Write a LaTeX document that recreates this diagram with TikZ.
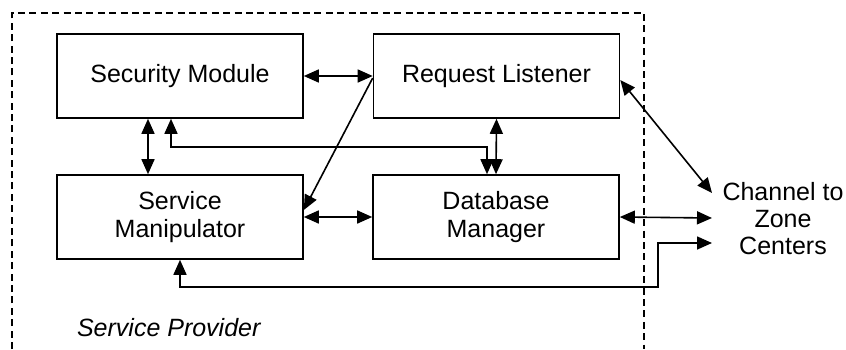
\documentclass[tikz,border=0pt]{standalone}
\usepackage{fontspec}
\setmainfont{Liberation Sans}
\usetikzlibrary{arrows.meta}
\begin{document}
\begin{tikzpicture}[x=0.5pt,y=-0.5pt,
  every node/.style={font=\fontsize{12.5}{14}\selectfont},
  box/.style={draw,line width=0.8pt,minimum width=123pt,minimum height=42pt,inner sep=0pt,align=center},
  conn/.style={line width=0.8pt,{Triangle[length=7.5pt,width=6.5pt]}-{Triangle[length=7.5pt,width=6.5pt]}},
  single/.style={line width=0.8pt,-{Triangle[length=7.5pt,width=6.5pt]}},
  frame/.style={line width=0.8pt,dash pattern=on 3.5pt off 2.2pt}]
\useasboundingbox (0,0) rectangle (846,349);
\draw[frame] (12,349) -- (12,13) -- (644,13) -- (644,349);
\node[box] (sec) at (180,76) {Security Module};
\node[box] (rl) at (496.5,76) {\raisebox{2pt}{Request Listener}};
\node[box] (svc) at (180,217) {Service\\Manipulator};
\node[box] (db) at (496,217) {Database\\Manager};
\node[align=center,font=\fontsize{12.5}{13.5}\selectfont] (ch) at (783,219) {Channel to\\Zone\\Centers};
\node[anchor=west,font=\fontsize{12.5}{14}\selectfont\itshape] (sp) at (70,328) {Service Provider};
\coordinate (cA) at (712,193);
\coordinate (cB) at (712,218);
\coordinate (cC) at (712,243);
\coordinate (kink) at (658,243);
\draw[conn] (sec.east) -- (rl.west);
\draw[conn] ([xshift=-16pt]sec.south) -- ([xshift=-16pt]svc.north);
\draw[conn] ([xshift=-4.5pt]sec.south) -- ++(0,28) -| ([xshift=-4.5pt]db.north);
\draw[conn] (rl.south) -- (db.north);
\draw[single] ([yshift=-1pt]rl.west) -- ([yshift=3.5pt]svc.east);
\draw[conn] (svc.east) -- (db.west);
\draw[conn] ([yshift=-2pt]rl.east) -- (cA);
\draw[conn] (db.east) -- (cB);
\draw[conn] (svc.south) -- ++(0,27) -| (kink) -- (cC);
\end{tikzpicture}
\end{document}
